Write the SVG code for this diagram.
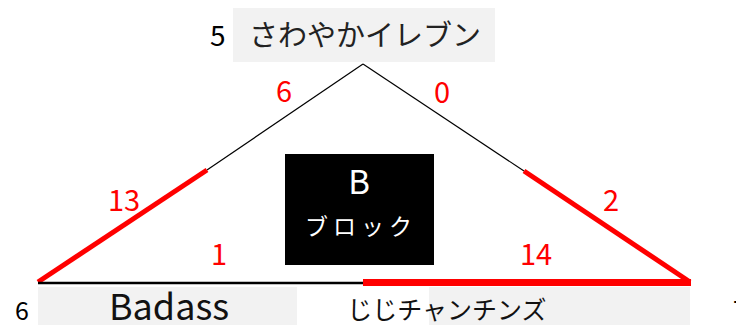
<svg xmlns="http://www.w3.org/2000/svg" width="736" height="325" viewBox="0 0 736 325">
<style>
text{font-family:"Noto Sans CJK JP","Noto Sans",sans-serif}
.bg{fill:#f2f2f2}
.lbl{fill:#ff0000;font-size:29px;text-anchor:middle}
.num{fill:#000;font-size:25px}
.thin{stroke:#000;stroke-width:1.2;fill:none}
.red{stroke:#ff0000;stroke-width:5;fill:none}
</style>
<rect width="736" height="325" fill="#fff"/>
<g id="connectors">
<line class="thin" x1="363" y1="64" x2="207" y2="170"/>
<line class="red" x1="207" y1="170" x2="38" y2="282"/>
<line class="thin" x1="363" y1="64" x2="524" y2="171"/>
<line class="red" x1="524" y1="171" x2="690" y2="282"/>
<line x1="38" y1="283" x2="364" y2="283" stroke="#000" stroke-width="2.5"/>
<line x1="363" y1="282.5" x2="691" y2="282.5" stroke="#ff0000" stroke-width="7"/>
<text class="lbl" x="284" y="102">6</text>
<text class="lbl" x="442" y="103">0</text>
<text class="lbl" x="124" y="211">13</text>
<text class="lbl" x="611" y="211">2</text>
<text class="lbl" x="219" y="265">1</text>
<text class="lbl" x="536" y="265">14</text>
</g>
<g id="node-top">
<rect class="bg" x="233" y="8" width="262" height="54"/>
<text x="365" y="46" font-size="29" text-anchor="middle" fill="#222">さわやかイレブン</text>
<text x="210" y="46" font-size="28" fill="#000">5</text>
</g>
<g id="node-block">
<rect x="285" y="154" width="149" height="111" fill="#000"/>
<text x="359" y="194" font-size="33" text-anchor="middle" fill="#fff">B</text>
<text x="361" y="235" font-size="23" text-anchor="middle" fill="#fff" letter-spacing="5">ブロック</text>
</g>
<g id="node-badass">
<rect class="bg" x="38" y="287" width="259" height="38"/>
<text x="169" y="320" font-size="36" text-anchor="middle" fill="#111">Badass</text>
<text class="num" x="15" y="320">6</text>
</g>
<g id="node-jiji">
<rect class="bg" x="429" y="287" width="261" height="38"/>
<text x="447" y="319" font-size="25" text-anchor="middle" fill="#111">じじチャンチンズ</text>
<text class="num" x="733" y="319">7</text>
</g>
</svg>
